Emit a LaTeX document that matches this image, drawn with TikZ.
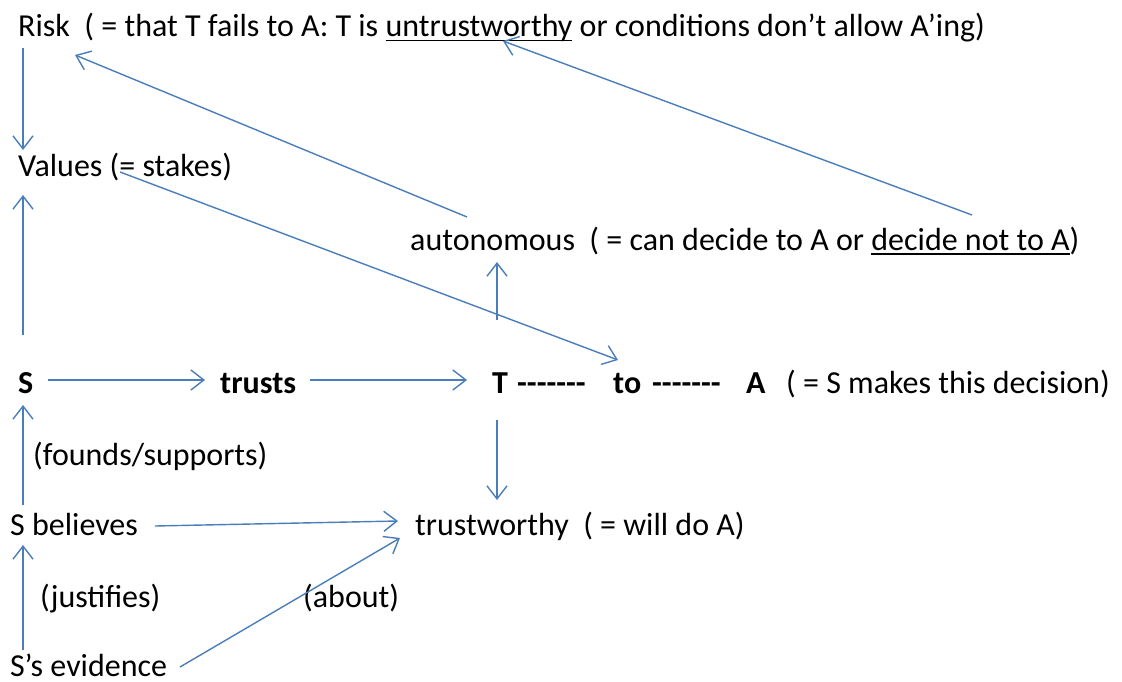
\documentclass[tikz,border=0pt]{standalone}
\usepackage{fontspec}
\setmainfont{Carlito}
\usetikzlibrary{arrows.meta}
\definecolor{linkblue}{RGB}{74,126,187}
\newcommand\myul[1]{\setbox0\hbox{#1}\rlap{\rule[-4.5pt]{\wd0}{1.8pt}}\box0\relax}
\newcommand\mydashes{-{}-{}-{}-{}-{}-{}-}
\begin{document}
\begin{tikzpicture}[x=1pt,y=-1pt,
  txt/.style={anchor=base west,inner sep=0pt,font=\fontsize{32}{38}\selectfont},
  bold/.style={txt,font=\fontsize{32}{38}\selectfont\bfseries},
  arr/.style={draw=linkblue,line width=1.4pt,-{Straight Barb[length=13pt,width=20pt,line width=1.4pt]}}]
\useasboundingbox[fill=white] (0,0) rectangle (1122,682);
% nodes
\node[txt] (risk) at (18,37) {Risk\ \ ( = that T fails to A: T is \myul{untrustworthy} or conditions don’t allow A’ing)};
\node[txt] (values) at (18,177) {Values (= stakes)};
\node[txt] (auto) at (410,250) {autonomous\ \ ( = can decide to A or \myul{decide not to A})};
\node[bold] (S) at (18,393) {S};
\node[bold] (trusts) at (220,393) {trusts};
\node[bold] (T) at (492,393) {T};
\node[bold] (d1) at (517,393) {\mydashes};
\node[bold] (to) at (613,393) {to};
\node[bold] (d2) at (652,393) {\mydashes};
\node[bold] (A) at (746,393) {A};
\node[txt] (Aexp) at (786,393) {( = S makes this decision)};
\node[txt] (tw) at (415,535) {trustworthy\ \ ( = will do A)};
\node[txt] (believes) at (10,535) {S believes};
\node[txt] (founds) at (33,465) {(founds/supports)};
\node[txt] (justifies) at (40,607) {(justifies)};
\node[txt] (about) at (303,607) {(about)};
\node[txt] (evidence) at (10,676) {S’s evidence};
% connectors
\draw[arr] ([shift={(5,11)}]risk.base west) -- ([shift={(5,-27)}]values.base west);
\draw[arr] ([shift={(5,-58)}]S.base west) -- ([shift={(5,18)}]values.base west);
\draw[arr] ([shift={(102,-5)}]values.base west) -- ([shift={(5,-33)}]to.base west);
\draw[arr] ([shift={(30,-13)}]S.base west) -- ([shift={(-15,-13)}]trusts.base west);
\draw[arr] ([shift={(90,-13)}]trusts.base west) -- ([shift={(-25,-13)}]T.base west);
\draw[arr] ([shift={(5,-73)}]T.base west) -- ([shift={(87,12)}]auto.base west);
\draw[arr] ([shift={(5,27)}]T.base west) -- ([shift={(82,-35)}]tw.base west);
\draw[arr] ([shift={(57,-33)}]auto.base west) -- ([shift={(57,18)}]risk.base west);
\draw[arr] ([shift={(562,-35)}]auto.base west) -- ([shift={(485,4)}]risk.base west);
\draw[arr] ([shift={(145,-9)}]believes.base west) -- ([shift={(-17,-14)}]tw.base west);
\draw[arr] ([shift={(170,-9)}]evidence.base west) -- ([shift={(-15,3)}]tw.base west);
\draw[arr] ([shift={(13,-30)}]believes.base west) -- ([shift={(5,12)}]S.base west);
\draw[arr] ([shift={(13,-26)}]evidence.base west) -- ([shift={(13,10)}]believes.base west);
\end{tikzpicture}
\end{document}
